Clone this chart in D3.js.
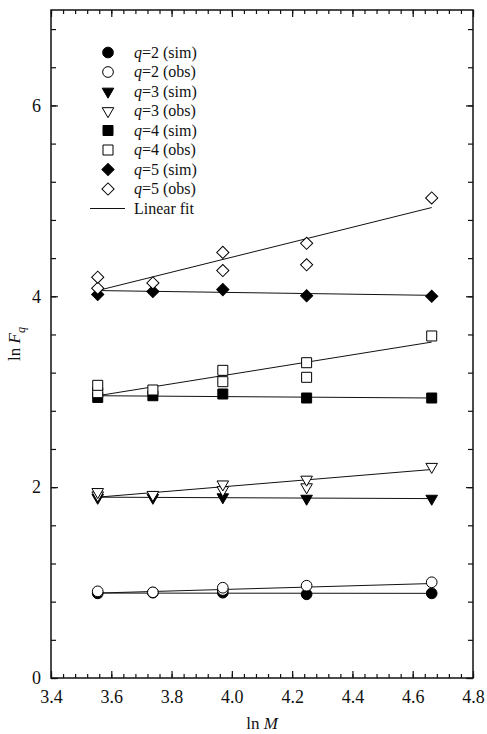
<!DOCTYPE html>
<html>
<head>
<meta charset="utf-8">
<script src="https://cdn.jsdelivr.net/npm/d3@7"></script>
<style>
  body { margin: 0; background: #fff; }
  text { font-family: "Liberation Serif", "Times New Roman", serif; fill: #111; }
</style>
</head>
<body>
<div id="chart"></div>
<script>
// ln M positions of the five samples
var lnM = [3.555, 3.738, 3.970, 4.248, 4.663];

// simulated ln Fq
var q2Sim = [0.887, 0.894, 0.894, 0.877, 0.887];
var q3Sim = [1.890, 1.890, 1.895, 1.880, 1.880];
var q4Sim = [2.940, 2.958, 2.976, 2.934, 2.934];
var q5Sim = [4.020, 4.050, 4.070, 4.005, 4.000];

// observed ln Fq (two data sets, null where only one point shows)
var q2Obs = [0.908, 0.898, 0.946, 0.967, 1.003];
var q2Obs2 = [null, null, 0.922, null, null];
var q3Obs = [1.950, 1.920, 2.030, 2.080, 2.214];
var q3Obs2 = [1.915, null, 1.970, 2.000, null];
var q4Obs = [3.067, 3.018, 3.224, 3.304, 3.584];
var q4Obs2 = [2.990, null, 3.105, 3.151, null];
var q5Obs = [4.200, 4.140, 4.460, 4.555, 5.030];
var q5Obs2 = [4.085, null, 4.270, 4.330, null];

// linear fits: value at first and last ln M
var fitSim = [[0.890, 0.887], [1.895, 1.880], [2.958, 2.934], [4.060, 4.010]];
var fitObs = [[0.890, 0.990], [1.895, 2.185], [2.958, 3.520], [4.060, 4.930]];

var xTicks = [3.4, 3.6, 3.8, 4.0, 4.2, 4.4, 4.6, 4.8];
var yTicks = [0, 2, 4, 6];

var legendLabels = ["2 (sim)", "2 (obs)", "3 (sim)", "3 (obs)", "4 (sim)", "4 (obs)", "5 (sim)", "5 (obs)"];

var svg = d3.select("#chart").append("svg").attr("width", 487).attr("height", 734),
    margin = {left: 51, top: 10, right: 14, bottom: 56},
    width = 487 - margin.left - margin.right,
    height = 734 - margin.top - margin.bottom;

var g = svg.append("g").attr("transform", "translate(" + margin.left + "," + margin.top + ")");

var x = d3.scaleLinear().domain([3.4, 4.8]).range([0, width]);
var y = d3.scaleLinear().domain([0, 7]).range([height, 0]);

var xMinor = d3.range(3.4, 4.8001, 0.04);
var yMinor = d3.range(0, 7.001, 0.4);

function styleAxis(sel) {
    sel.select(".domain").remove();
    sel.selectAll("line").attr("stroke", "#111").attr("stroke-width", 1.2);
    sel.selectAll("text").style("font-size", "18px").attr("fill", "#111");
}

// minor ticks
g.append("g").attr("transform", "translate(0," + height + ")")
    .call(d3.axisBottom(x).tickValues(xMinor).tickSize(-4).tickFormat("")).call(styleAxis);
g.append("g")
    .call(d3.axisTop(x).tickValues(xMinor).tickSize(-4).tickFormat("")).call(styleAxis);
g.append("g")
    .call(d3.axisLeft(y).tickValues(yMinor).tickSize(-5).tickFormat("")).call(styleAxis);
g.append("g").attr("transform", "translate(" + width + ",0)")
    .call(d3.axisRight(y).tickValues(yMinor).tickSize(-5).tickFormat("")).call(styleAxis);

// major ticks
g.append("g").attr("transform", "translate(0," + height + ")")
    .call(d3.axisBottom(x).tickValues(xTicks).tickSize(-7).tickPadding(12).tickFormat(d3.format(".1f")))
    .call(styleAxis);
g.append("g")
    .call(d3.axisTop(x).tickValues(xTicks).tickSize(-7).tickFormat("")).call(styleAxis);
g.append("g")
    .call(d3.axisLeft(y).tickValues(yTicks).tickSize(-7).tickPadding(10).tickFormat(d3.format("d")))
    .call(styleAxis);
g.append("g").attr("transform", "translate(" + width + ",0)")
    .call(d3.axisRight(y).tickValues(yTicks).tickSize(-7).tickFormat("")).call(styleAxis);

// frame
g.append("rect").attr("width", width).attr("height", height)
    .attr("fill", "none").attr("stroke", "#111").attr("stroke-width", 1.5);

// axis titles
var xt = svg.append("text").attr("x", margin.left + width / 2).attr("y", 729)
    .attr("text-anchor", "middle").style("font-size", "17px");
xt.append("tspan").text("ln ");
xt.append("tspan").style("font-style", "italic").text("M");

var yt = svg.append("text").attr("transform", "translate(20," + (margin.top + height / 2) + ") rotate(-90)")
    .attr("text-anchor", "middle").style("font-size", "17px");
yt.append("tspan").text("ln ");
yt.append("tspan").style("font-style", "italic").text("F");
yt.append("tspan").style("font-style", "italic").style("font-size", "12px").attr("dy", 5).text("q");

// symbols
var circle = d3.symbol().type(d3.symbolCircle).size(90)();
var square = d3.symbol().type(d3.symbolSquare).size(100)();
var diamond = d3.symbol().type(d3.symbolSquare).size(74)();
var triangle = d3.symbol().type(d3.symbolTriangle).size(58)();
var shapes = [
    {path: circle, rot: 0},
    {path: triangle, rot: 180},
    {path: square, rot: 0},
    {path: diamond, rot: 45}
];

var simSets = [q2Sim, q3Sim, q4Sim, q5Sim];
var obsSets = [[q2Obs, q2Obs2], [q3Obs, q3Obs2], [q4Obs, q4Obs2], [q5Obs, q5Obs2]];

// fit lines
var lineGen = d3.line().x(function(d) { return x(d[0]); }).y(function(d) { return y(d[1]); });
var fits = fitSim.concat(fitObs);
g.append("g").selectAll("path")
    .data(fits)
    .enter().append("path")
    .attr("d", function(d) { return lineGen([[lnM[0], d[0]], [lnM[4], d[1]]]); })
    .attr("fill", "none").attr("stroke", "#111").attr("stroke-width", 1);

function drawPoints(vals, shape, filled) {
    var pts = [];
    vals.forEach(function(v, i) { if (v != null) pts.push([lnM[i], v]); });
    g.append("g").selectAll("path")
        .data(pts)
        .enter().append("path")
        .attr("d", shape.path)
        .attr("transform", function(d) {
            return "translate(" + x(d[0]) + "," + y(d[1]) + ") rotate(" + shape.rot + ")";
        })
        .attr("fill", filled ? "#000" : "#fff")
        .attr("stroke", "#000").attr("stroke-width", 1);
}

simSets.forEach(function(s, k) {
    drawPoints(s, shapes[k], true);
    drawPoints(obsSets[k][1], shapes[k], false);
    drawPoints(obsSets[k][0], shapes[k], false);
});

// legend
var legend = svg.append("g");
legendLabels.forEach(function(lab, i) {
    var cy = 52.5 + i * 19.5;
    var sh = shapes[Math.floor(i / 2)];
    legend.append("path").attr("d", sh.path)
        .attr("transform", "translate(108," + cy + ") rotate(" + sh.rot + ")")
        .attr("fill", i % 2 === 0 ? "#000" : "#fff")
        .attr("stroke", "#000").attr("stroke-width", 1);
    var t = legend.append("text").attr("x", 134).attr("y", cy + 5).style("font-size", "16px");
    t.append("tspan").style("font-style", "italic").text("q");
    t.append("tspan").text("=" + lab);
});
var ly = 52.5 + 8 * 19.5;
legend.append("line").attr("x1", 90).attr("x2", 125).attr("y1", ly).attr("y2", ly)
    .attr("stroke", "#111").attr("stroke-width", 1);
legend.append("text").attr("x", 134).attr("y", ly + 5).style("font-size", "16px").text("Linear fit");
</script>
</body>
</html>
